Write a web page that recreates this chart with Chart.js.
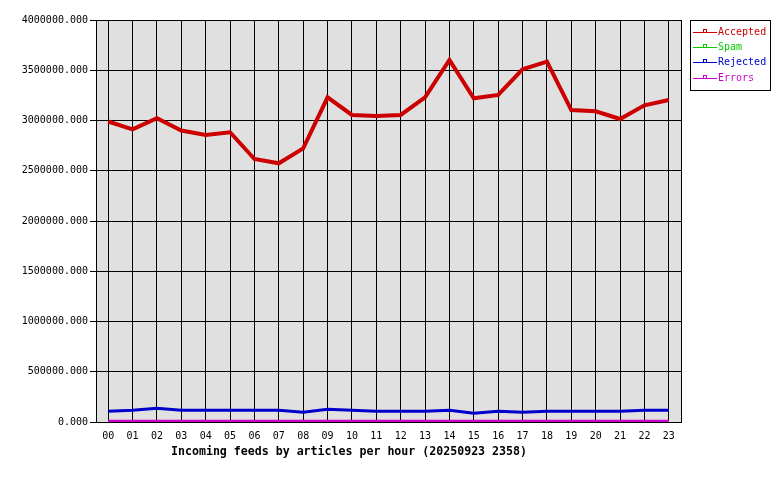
<!DOCTYPE html>
<html><head><meta charset="utf-8">
<script src="https://cdn.jsdelivr.net/npm/chart.js@4/dist/chart.umd.min.js"></script>
<style>html,body{margin:0;padding:0;background:#fff;}#wrap{width:780px;height:480px;}</style>
</head><body><div id="wrap"><canvas id="c" width="780" height="480"></canvas></div>
<script>
const hours = ['00','01','02','03','04','05','06','07','08','09','10','11','12','13','14','15','16','17','18','19','20','21','22','23'];
const accepted = [2990000, 2912000, 3022000, 2900000, 2856000, 2883000, 2617000, 2574000, 2723000, 3231000, 3055000, 3045000, 3055000, 3231000, 3602000, 3221000, 3254000, 3509000, 3585000, 3104000, 3091000, 3015000, 3151000, 3204000];
const spam = [2000, 2000, 2000, 2000, 2000, 2000, 2000, 2000, 2000, 2000, 2000, 2000, 2000, 2000, 2000, 2000, 2000, 2000, 2000, 2000, 2000, 2000, 2000, 2000];
const rejected = [106000, 116000, 136000, 116000, 116000, 116000, 116000, 116000, 96000, 126000, 116000, 106000, 106000, 106000, 116000, 86000, 106000, 96000, 106000, 106000, 106000, 106000, 116000, 116000];
const errors = [8000, 8000, 8000, 8000, 8000, 8000, 8000, 8000, 8000, 8000, 8000, 8000, 8000, 8000, 8000, 8000, 8000, 8000, 8000, 8000, 8000, 8000, 8000, 8000];
const seriesNames = ['Accepted', 'Spam', 'Rejected', 'Errors'];
const yTickValues = [0, 500000, 1000000, 1500000, 2000000, 2500000, 3000000, 3500000, 4000000];
const chartTitle = 'Incoming feeds by articles per hour (20250923 2358)';

const MONO = '"DejaVu Sans Mono", "Liberation Mono", monospace';
const colors = ['#cc0000', '#00cc00', '#0000cc', '#cc00cc'];

const plotBg = {
  id: 'plotBg',
  beforeDraw(chart) {
    const {ctx, chartArea: a} = chart;
    ctx.save();
    ctx.fillStyle = '#ffffff';
    ctx.fillRect(0, 0, chart.width, chart.height);
    ctx.fillStyle = '#e0e0e0';
    ctx.fillRect(a.left, a.top, a.right - a.left, a.bottom - a.top);
    ctx.restore();
  },
  beforeDatasetsDraw(chart) {
    const {ctx, chartArea: a} = chart;
    ctx.save();
    ctx.strokeStyle = '#000';
    ctx.lineWidth = 1;
    ctx.strokeRect(Math.round(a.left) + 0.5, Math.round(a.top) + 0.5, Math.round(a.right - a.left), Math.round(a.bottom - a.top));
    ctx.restore();
  },
  afterDraw(chart) {
    const ctx = chart.ctx;
    ctx.save();
    ctx.font = 'bold 11.6px ' + MONO;
    ctx.fillStyle = '#000';
    ctx.textBaseline = 'middle';
    ctx.textAlign = 'left';
    ctx.fillText(chartTitle, 171, 452);
    ctx.fillStyle = '#fff';
    ctx.fillRect(690.5, 20.5, 80, 70);
    ctx.strokeStyle = '#000';
    ctx.lineWidth = 1;
    ctx.strokeRect(690.5, 20.5, 80, 70);
    ctx.font = '10px ' + MONO;
    chart.data.datasets.forEach((ds, i) => {
      const y = Math.round(32 + i * 15.2) + 0.5;
      ctx.strokeStyle = ds.borderColor;
      ctx.beginPath();
      ctx.moveTo(693, y);
      ctx.lineTo(717, y);
      ctx.stroke();
      ctx.strokeRect(703.5, y - 3, 3, 3);
      ctx.fillStyle = ds.borderColor;
      ctx.textBaseline = 'middle';
      ctx.fillText(ds.label, 718, y);
    });
    ctx.restore();
  }
};

const seriesData = [accepted, spam, rejected, errors];
new Chart(document.getElementById('c'), {
  type: 'line',
  data: {
    labels: hours,
    datasets: seriesData.map((d, i) => ({
      label: seriesNames[i],
      data: d,
      order: seriesData.length - 1 - i,
      borderColor: colors[i],
      backgroundColor: colors[i],
      borderWidth: i === 0 ? 4 : 3,
      pointRadius: 0,
      tension: 0,
      fill: false
    }))
  },
  options: {
    responsive: false,
    animation: false,
    devicePixelRatio: 1,
    layout: { padding: { left: 0, top: 20, right: 99, bottom: 0 } },
    plugins: { legend: { display: false }, tooltip: { enabled: false }, title: { display: false } },
    scales: {
      x: {
        type: 'category',
        offset: true,
        grid: { color: '#000', lineWidth: 1, drawTicks: false, offset: false },
        border: { color: '#000', width: 1 },
        ticks: { color: '#000', font: { family: MONO, size: 10 }, padding: 8, maxRotation: 0, autoSkip: false },
        afterFit(scale) { scale.height = 58; }
      },
      y: {
        min: 0, max: 4000000,
        grid: { color: '#000', lineWidth: 1, drawTicks: true, tickLength: 6, tickColor: '#000' },
        border: { color: '#000', width: 1 },
        afterBuildTicks(scale) { scale.ticks = yTickValues.map(v => ({ value: v })); },
        ticks: { color: '#000', font: { family: MONO, size: 10 }, padding: 2, callback: v => Number(v).toFixed(3) },
        afterFit(scale) { scale.width = 96; }
      }
    }
  },
  plugins: [plotBg]
});
</script></body></html>
